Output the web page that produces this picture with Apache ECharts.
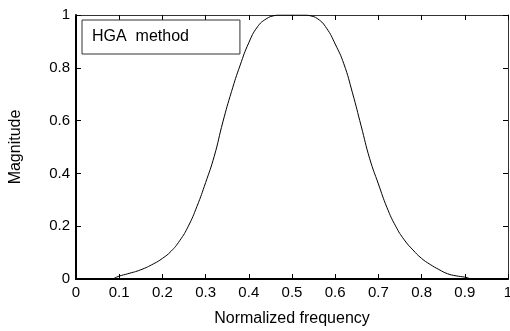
<!DOCTYPE html>
<html><head><meta charset="utf-8">
<script src="https://cdn.jsdelivr.net/npm/echarts@6/dist/echarts.min.js"></script>
<style>html,body{margin:0;padding:0;background:#fff}#c{width:510px;height:331px}</style>
</head><body><div id="c"></div>
<script>
const freq = [0, 0.05, 0.08, 0.1, 0.12, 0.15, 0.18, 0.2, 0.22, 0.24, 0.26, 0.28, 0.3, 0.32, 0.34, 0.36, 0.38, 0.4, 0.42, 0.44, 0.46, 0.47, 0.5, 0.53, 0.54, 0.56, 0.58, 0.6, 0.62, 0.64, 0.66, 0.68, 0.7, 0.72, 0.74, 0.76, 0.78, 0.8, 0.82, 0.84, 0.86, 0.88, 0.9, 0.92, 0.95, 1];
const magnitude = [0, 0, 0, 0.011, 0.02, 0.035, 0.058, 0.078, 0.105, 0.145, 0.2, 0.275, 0.365, 0.465, 0.595, 0.71, 0.81, 0.895, 0.955, 0.985, 0.998, 1, 1, 1, 0.998, 0.985, 0.95, 0.89, 0.815, 0.705, 0.58, 0.455, 0.36, 0.27, 0.2, 0.148, 0.11, 0.078, 0.055, 0.036, 0.02, 0.012, 0.007, 0, 0, 0];
const xTicks = [0, 0.1, 0.2, 0.3, 0.4, 0.5, 0.6, 0.7, 0.8, 0.9, 1];
const yTicks = [0, 0.2, 0.4, 0.6, 0.8, 1];
const seriesName = 'HGA  method';

const font = 'Liberation Sans, Arial, sans-serif';
const chart = echarts.init(document.getElementById('c'), null, {renderer: 'canvas'});
const fmt = v => String(Math.round(v * 10) / 10);
chart.setOption({
  animation: false,
  grid: {left: 76, right: 2, top: 15, bottom: 52, containLabel: false, outerBoundsMode: 'none'},
  legend: {
    data: [{name: seriesName, icon: 'none'}],
    left: 82, top: 20,
    itemWidth: 0, itemHeight: 0, itemGap: 0,
    padding: [9, 51, 9, 5],
    borderColor: '#333', borderWidth: 1, backgroundColor: '#fff',
    selectedMode: false,
    textStyle: {fontFamily: font, fontSize: 16, color: '#000'}
  },
  xAxis: [{
    type: 'value', min: 0, max: 1, interval: 0.1, position: 'bottom',
    name: 'Normalized frequency', nameLocation: 'middle', nameGap: 32,
    nameTextStyle: {fontFamily: font, fontSize: 16, color: '#000'},
    axisLine: {show: true, onZero: false, lineStyle: {color: '#000', width: 2}},
    axisTick: {show: true, inside: true, length: 5, lineStyle: {color: '#000'}},
    axisLabel: {fontFamily: font, fontSize: 15, color: '#000', margin: 6, formatter: fmt,
      customValues: xTicks},
    splitLine: {show: false}
  }, {
    type: 'value', min: 0, max: 1, interval: 0.1, position: 'top',
    axisLine: {show: true, onZero: false, lineStyle: {color: '#333', width: 1}},
    axisTick: {show: true, inside: true, length: 5, lineStyle: {color: '#000'}},
    axisLabel: {show: false}, splitLine: {show: false}
  }],
  yAxis: [{
    type: 'value', min: 0, max: 1, interval: 0.2, position: 'left',
    name: 'Magnitude', nameLocation: 'middle', nameGap: 52,
    nameTextStyle: {fontFamily: font, fontSize: 16, color: '#000'},
    axisLine: {show: true, onZero: false, lineStyle: {color: '#000', width: 2}},
    axisTick: {show: true, inside: true, length: 5, lineStyle: {color: '#000'}},
    axisLabel: {fontFamily: font, fontSize: 15, color: '#000', margin: 6, formatter: fmt,
      customValues: yTicks},
    splitLine: {show: false}
  }, {
    type: 'value', min: 0, max: 1, interval: 0.2, position: 'right',
    axisLine: {show: true, onZero: false, lineStyle: {color: '#333', width: 1}},
    axisTick: {show: true, inside: true, length: 5, lineStyle: {color: '#000'}},
    axisLabel: {show: false}, splitLine: {show: false}
  }],
  series: [{
    name: seriesName, type: 'line', xAxisIndex: 0, yAxisIndex: 0,
    data: freq.map((f, i) => [f, magnitude[i]]),
    showSymbol: false, smooth: 0.5,
    lineStyle: {color: '#000', width: 1}, itemStyle: {color: '#000'}
  }]
});
</script></body></html>
